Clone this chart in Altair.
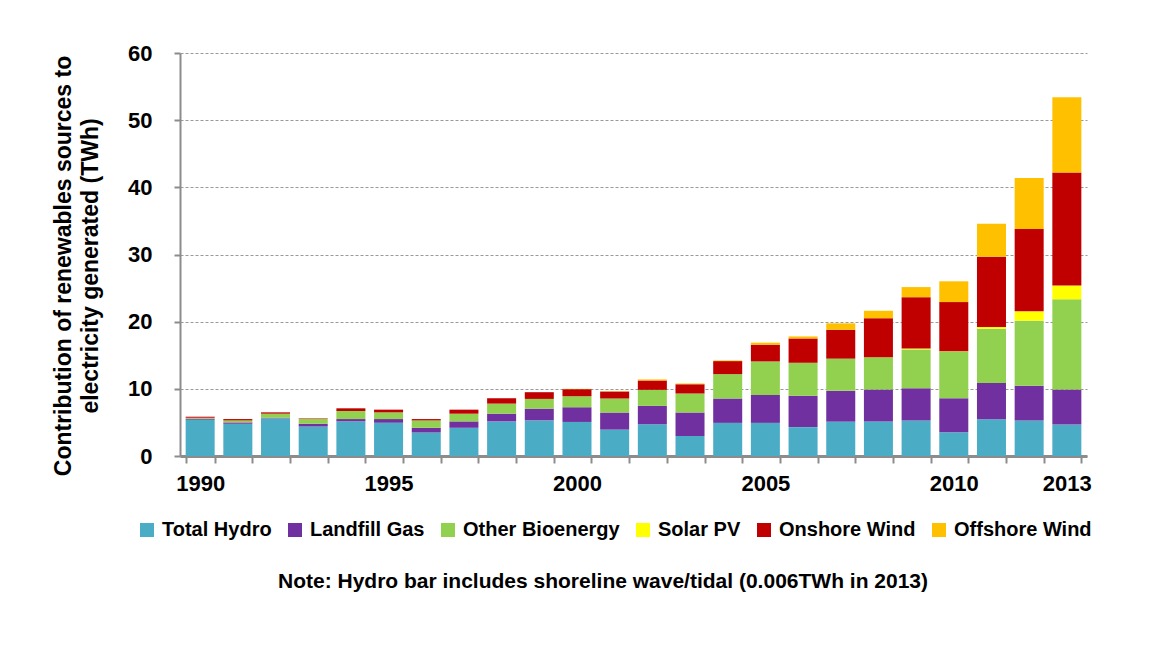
import altair as alt
import pandas as pd

years = [str(y) for y in range(1990, 2014)]
hydro    = [5.40, 4.80, 5.60, 4.40, 5.15, 4.95, 3.50, 4.20, 5.15, 5.30, 5.07, 3.93, 4.73, 2.99, 4.93, 4.93, 4.30, 5.12, 5.12, 5.27, 3.53, 5.47, 5.27, 4.68]
landfill = [0.15, 0.20, 0.10, 0.40, 0.35, 0.55, 0.70, 0.95, 1.15, 1.75, 2.19, 2.54, 2.73, 3.48, 3.63, 4.17, 4.66, 4.58, 4.78, 4.83, 5.07, 5.38, 5.18, 5.22]
otherbio = [0.15, 0.30, 0.60, 0.70, 1.20, 1.00, 1.10, 1.15, 1.50, 1.45, 1.64, 2.09, 2.39, 2.83, 3.63, 4.98, 4.92, 4.80, 4.80, 5.77, 6.97, 8.11, 9.70, 13.43]
solar    = [0, 0, 0, 0, 0, 0, 0, 0, 0, 0, 0, 0, 0, 0, 0, 0, 0, 0, 0.02, 0.15, 0.04, 0.25, 1.39, 2.04]
onshore  = [0.15, 0.20, 0.20, 0.10, 0.40, 0.40, 0.20, 0.60, 0.80, 1.00, 1.05, 1.04, 1.39, 1.40, 1.94, 2.49, 3.62, 4.30, 5.80, 7.63, 7.30, 10.45, 12.26, 16.83]
offshore = [0, 0, 0, 0, 0, 0, 0, 0, 0, 0, 0.05, 0.05, 0.16, 0.10, 0.10, 0.30, 0.30, 0.95, 1.10, 1.50, 3.10, 4.90, 7.60, 11.20]

series = ["Total Hydro", "Landfill Gas", "Other Bioenergy", "Solar PV", "Onshore Wind", "Offshore Wind"]
colors = ["#4BACC6", "#7030A0", "#92D050", "#FFFF00", "#C00000", "#FFC000"]
label_years = ["1990", "1995", "2000", "2005", "2010", "2013"]
y_title = "Contribution of  renewables sources to\nelectricity generated (TWh)"
note_text = "Note: Hydro bar includes shoreline wave/tidal (0.006TWh in 2013)"

rows = []
for i, (name, vals) in enumerate(zip(series, [hydro, landfill, otherbio, solar, onshore, offshore])):
    for y, v in zip(years, vals):
        rows.append({"year": y, "source": name, "value": v, "idx": i})
df = pd.DataFrame(rows)

FONT = "Liberation Sans"

bars = alt.Chart(df).mark_bar(stroke=None).encode(
    x=alt.X("year:N", sort=years,
            scale=alt.Scale(paddingInner=0.23, paddingOuter=0.15),
            axis=alt.Axis(title=None, labelAngle=0, grid=False, tickBand="extent",
                          labelExpr="indexof(" + str(label_years) + ", datum.label) >= 0 ? datum.label : ''",
                          domainColor="#8c8c8c", domainWidth=3, tickColor="#8c8c8c", tickWidth=2,
                          tickSize=7, labelPadding=10, labelFontSize=22, labelFont=FONT,
                          labelFontWeight="bold", labelColor="black")),
    y=alt.Y("value:Q", stack="zero",
            scale=alt.Scale(domain=[0, 60], nice=False),
            axis=alt.Axis(values=[0, 10, 20, 30, 40, 50, 60], title=None,
                          labelFontSize=22, labelFont=FONT, labelFontWeight="bold", labelColor="black",
                          labelPadding=22, tickSize=6, tickColor="#8c8c8c", tickWidth=2,
                          domainColor="#8c8c8c", domainWidth=2,
                          grid=True, gridColor="#9a9a9a", gridDash=[3, 2], gridWidth=1.2)),
    color=alt.Color("source:N", sort=series,
                    scale=alt.Scale(domain=series, range=colors),
                    legend=alt.Legend(title=None, orient="none", direction="horizontal",
                                      legendX=-43, legendY=467, symbolType="square",
                                      symbolSize=196, symbolStrokeWidth=0, labelFontSize=20,
                                      labelFont=FONT, labelFontWeight="bold", labelColor="black",
                                      columnPadding=13, labelOffset=5, labelLimit=300, padding=0)),
    order=alt.Order("idx:Q", sort="ascending"),
)

ytitle = alt.Chart(pd.DataFrame({"t": [y_title]})).mark_text(
    font=FONT, fontSize=23, fontWeight="bold", color="black", align="center", baseline="middle",
    angle=270, lineBreak="\n", lineHeight=27
).encode(text="t:N", x=alt.value(-116), y=alt.value(213))

note = alt.Chart(pd.DataFrame({"t": [note_text]})).mark_text(
    font=FONT, fontSize=21, fontWeight="bold", color="black", align="center", baseline="middle"
).encode(text="t:N", x=alt.value(423), y=alt.value(529))

chart = alt.layer(bars, ytitle, note).properties(
    width=907, height=403, background="white",
    padding={"left": 172, "top": 45, "right": 62, "bottom": 185},
    autosize=alt.AutoSizeParams(type="none"),
).configure_view(stroke=None)

chart.save("out.html", embed_options={"renderer": "svg", "actions": False})
